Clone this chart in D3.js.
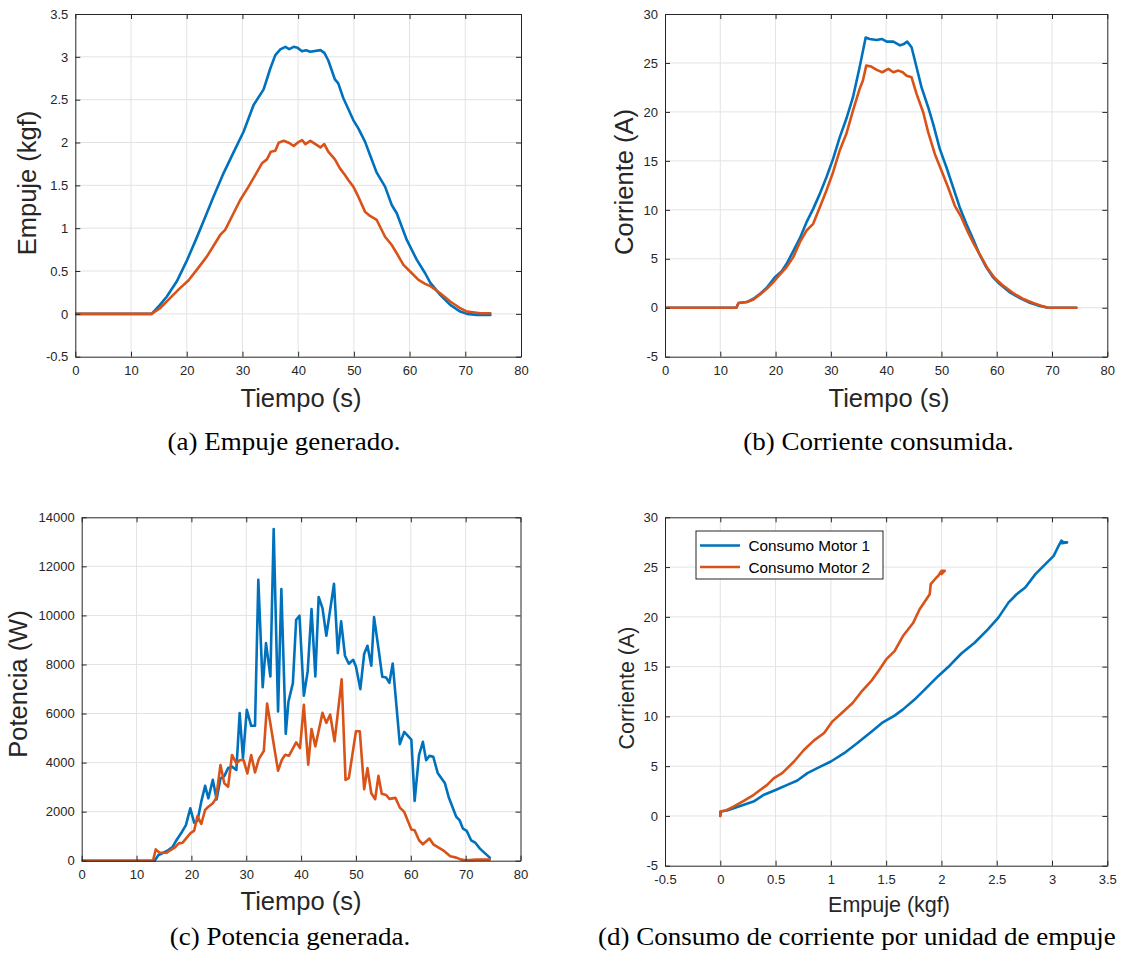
<!DOCTYPE html>
<html>
<head>
<meta charset="utf-8">
<script src="https://d3js.org/d3.v7.min.js"></script>
<style>
  html, body { margin: 0; padding: 0; background: #ffffff; }
  svg { display: block; }
  text { font-family: "Liberation Sans", Arial, Helvetica, sans-serif; fill: #262626; }
  .cap { font-family: "Liberation Serif", "Times New Roman", serif; fill: #000; }
</style>
</head>
<body>
<svg id="fig" width="1126" height="959"></svg>
<script>
// ---------------- DATA ----------------
// (a) Empuje generado (kgf) vs Tiempo (s)
const empujeT1 = [0, 13.7, 15.2, 16.4, 18.2, 20.0, 21.8, 23.6, 24.8, 26.6, 28.4, 30.2, 32.0, 33.8, 35.0, 35.9, 36.8, 37.7, 38.4, 39.2, 39.9, 40.7, 41.4, 42.2, 44.0, 44.7, 45.4, 46.6, 47.2, 48.1, 49.9, 50.8, 52.0, 52.9, 54.1, 55.6, 56.8, 57.7, 59.5, 61.3, 62.8, 63.7, 65.5, 67.3, 69.1, 70.3, 72.1, 74.5];
const empujeM1 = [0, 0, 0.105, 0.20, 0.377, 0.618, 0.89, 1.174, 1.368, 1.64, 1.885, 2.126, 2.437, 2.62, 2.864, 3.02, 3.086, 3.117, 3.09, 3.117, 3.105, 3.066, 3.078, 3.059, 3.078, 3.047, 2.96, 2.736, 2.69, 2.52, 2.262, 2.165, 2.01, 1.854, 1.648, 1.485, 1.271, 1.174, 0.863, 0.63, 0.474, 0.365, 0.222, 0.105, 0.027, 0, -0.012, -0.012];
const empujeT2 = [0, 13.7, 15.2, 17.0, 18.8, 20.3, 21.8, 23.6, 25.1, 26.0, 26.9, 28.4, 29.6, 31.1, 32.3, 33.5, 34.4, 35.1, 35.9, 36.5, 37.4, 38.3, 39.2, 39.9, 40.7, 41.3, 42.2, 43.1, 44.0, 44.7, 45.4, 46.6, 47.5, 48.4, 49.0, 49.9, 50.8, 52.0, 52.9, 54.1, 55.6, 56.8, 57.7, 58.9, 60.1, 61.6, 62.8, 63.7, 65.5, 67.3, 69.1, 70.3, 72.7, 74.5];
const empujeM2 = [0, 0, 0.066, 0.183, 0.30, 0.389, 0.513, 0.668, 0.824, 0.921, 0.98, 1.174, 1.329, 1.485, 1.62, 1.757, 1.803, 1.893, 1.904, 1.998, 2.02, 1.998, 1.959, 1.998, 2.029, 1.982, 2.02, 1.982, 1.943, 1.982, 1.893, 1.803, 1.698, 1.62, 1.562, 1.485, 1.368, 1.193, 1.143, 1.096, 0.90, 0.804, 0.707, 0.571, 0.494, 0.396, 0.35, 0.326, 0.241, 0.144, 0.066, 0.027, 0.008, 0.008];

// (b) Corriente consumida (A) vs Tiempo (s)
const corrT1 = [0, 12.9, 13.3, 14.8, 16.0, 17.2, 18.4, 19.9, 21.1, 22.0, 23.2, 24.4, 25.6, 26.8, 28.0, 29.2, 30.4, 31.6, 32.8, 34.0, 35.2, 36.3, 37.0, 38.3, 39.2, 40.1, 41.3, 42.5, 43.1, 43.8, 44.6, 45.5, 46.4, 47.6, 48.5, 49.7, 50.9, 52.1, 53.3, 54.5, 55.7, 56.9, 58.1, 59.3, 60.5, 62.3, 64.2, 66.0, 67.8, 69.3, 74.4];
const corrM1 = [0, 0, 0.48, 0.58, 0.92, 1.43, 2.04, 3.13, 3.74, 4.49, 5.78, 7.11, 8.74, 10.1, 11.63, 13.33, 15.2, 17.4, 19.3, 21.5, 24.56, 27.6, 27.45, 27.35, 27.45, 27.18, 27.18, 26.8, 26.9, 27.18, 26.6, 24.56, 22.5, 20.48, 18.78, 16.22, 14.35, 12.31, 10.27, 8.57, 7.04, 5.44, 4.15, 3.13, 2.45, 1.6, 0.99, 0.51, 0.17, 0, 0];
const corrT2 = [0, 12.9, 13.3, 14.8, 16.0, 17.2, 18.4, 19.6, 20.8, 22.0, 23.2, 24.4, 25.6, 26.8, 28.0, 29.2, 30.4, 31.6, 32.8, 34.0, 35.2, 35.8, 36.4, 37.3, 38.3, 39.3, 40.4, 41.3, 42.2, 43.0, 43.7, 44.6, 45.5, 46.7, 47.6, 48.8, 50.0, 51.2, 52.4, 53.6, 54.8, 56.0, 57.2, 58.4, 59.6, 61.1, 62.9, 64.7, 66.6, 68.4, 69.3, 74.4];
const corrM2 = [0, 0, 0.48, 0.58, 0.85, 1.36, 1.94, 2.62, 3.4, 4.15, 5.17, 6.7, 7.89, 8.57, 10.27, 11.97, 13.84, 16.05, 17.76, 20.14, 22.35, 23.2, 24.73, 24.63, 24.29, 24.05, 24.39, 24.05, 24.22, 24.05, 23.7, 23.54, 21.84, 19.97, 17.93, 15.71, 14.01, 12.31, 10.44, 9.25, 7.72, 6.36, 5.17, 3.98, 3.06, 2.28, 1.53, 0.92, 0.48, 0.14, 0, 0];

// (c) Potencia generada (W) vs Tiempo (s)
const potT1 = [0, 13.3, 14.0, 14.9, 15.8, 16.6, 17.3, 18.3, 19.0, 19.8, 20.5, 21.1, 21.8, 22.5, 23.1, 23.9, 24.6, 25.3, 26.0, 26.7, 27.4, 28.2, 28.8, 29.4, 30.1, 30.9, 31.6, 32.2, 33.0, 33.6, 34.4, 35.0, 35.8, 36.4, 37.2, 37.7, 38.5, 39.1, 39.7, 40.5, 41.2, 41.9, 42.6, 43.2, 43.9, 44.6, 46.0, 46.7, 47.3, 48.0, 48.7, 49.5, 50.0, 50.8, 51.5, 52.1, 52.8, 53.3, 54.1, 54.8, 55.5, 56.1, 56.7, 58.0, 58.8, 60.1, 60.7, 61.5, 62.2, 62.8, 63.4, 64.1, 64.9, 66.2, 66.9, 68.3, 68.9, 69.5, 70.2, 71.0, 71.8, 72.6, 74.4];
const potM1 = [0, 0, 231, 326, 435, 571, 843, 1183, 1450, 2135, 1550, 1620, 2407, 3050, 2543, 3300, 2500, 3350, 3450, 3780, 3835, 3700, 6016, 4180, 6150, 5500, 5500, 11456, 7077, 8870, 7510, 13523, 6084, 11075, 5173, 6490, 7240, 9824, 9987, 6723, 7716, 10259, 7512, 10749, 10300, 9171, 11293, 8464, 9756, 8355, 8029, 8192, 7920, 6995, 8437, 8763, 7947, 9933, 8668, 7500, 7470, 7252, 8041, 4750, 5253, 4940, 2438, 4300, 4845, 4097, 4274, 4233, 3580, 3172, 2600, 1785, 1649, 1309, 1213, 833, 724, 493, 126];
const potT2 = [0, 13.0, 13.5, 14.2, 15.5, 16.2, 17.0, 17.7, 18.4, 19.2, 19.8, 20.5, 21.1, 21.8, 22.5, 23.1, 23.9, 24.5, 25.3, 26.0, 26.7, 27.4, 28.2, 28.9, 29.5, 30.2, 30.9, 31.6, 32.3, 33.2, 33.8, 35.8, 36.5, 37.1, 37.8, 39.1, 39.8, 40.5, 41.3, 41.9, 42.6, 43.9, 44.6, 45.3, 46.1, 47.4, 48.1, 48.7, 50.0, 50.7, 51.5, 52.1, 52.8, 53.5, 54.1, 54.7, 55.5, 56.1, 57.2, 58.0, 58.8, 60.1, 60.7, 61.5, 62.2, 63.4, 64.1, 65.9, 67.2, 68.3, 69.2, 70.1, 71.9, 74.4];
const potM2 = [0, 0, 462, 326, 326, 435, 544, 707, 734, 952, 1115, 1224, 1822, 1496, 2067, 2203, 2339, 2543, 3903, 3155, 3019, 4311, 3971, 4107, 4107, 3560, 4311, 3600, 4150, 4470, 6409, 3666, 4117, 4320, 4280, 4826, 4594, 6355, 3912, 5372, 4662, 6027, 5618, 5959, 4867, 7400, 3297, 3366, 5277, 5277, 2915, 3775, 2751, 2506, 3461, 2730, 2680, 2520, 2560, 2166, 1989, 1268, 1241, 833, 670, 901, 670, 425, 180, 126, 44, 17, 44, 44];

// (d) Corriente (A) vs Empuje (kgf)
const consE1 = [0, 0.006, 0.06, 0.18, 0.30, 0.39, 0.5, 0.606, 0.697, 0.788, 0.909, 1.0, 1.12, 1.24, 1.364, 1.47, 1.576, 1.65, 1.757, 1.864, 1.97, 2.076, 2.18, 2.30, 2.42, 2.515, 2.606, 2.68, 2.758, 2.85, 2.94, 3.015, 3.06, 3.085, 3.106, 3.136, 3.09];
const consC1 = [0, 0.44, 0.54, 1.0, 1.44, 2.1, 2.6, 3.12, 3.56, 4.3, 4.97, 5.47, 6.3, 7.32, 8.43, 9.4, 10.08, 10.68, 11.69, 12.86, 14.04, 15.12, 16.32, 17.4, 18.74, 19.92, 21.43, 22.27, 22.94, 24.29, 25.3, 26.13, 27.14, 27.65, 27.48, 27.48, 27.4];
const consE2 = [0, 0, 0.045, 0.12, 0.212, 0.303, 0.424, 0.485, 0.56, 0.667, 0.758, 0.848, 0.939, 1.015, 1.106, 1.197, 1.273, 1.364, 1.44, 1.5, 1.576, 1.652, 1.742, 1.803, 1.894, 1.903, 1.955, 1.97, 2.0, 2.03, 2.0];
const consC2 = [0, 0.44, 0.54, 0.94, 1.51, 2.12, 3.12, 3.8, 4.3, 5.47, 6.65, 7.59, 8.33, 9.5, 10.41, 11.35, 12.43, 13.54, 14.71, 15.72, 16.56, 18.07, 19.35, 20.76, 22.27, 23.28, 23.95, 24.1, 24.62, 24.62, 24.29];

// ticks
const tiempoTicks = [0, 10, 20, 30, 40, 50, 60, 70, 80];
const empujeTicks = [-0.5, 0, 0.5, 1, 1.5, 2, 2.5, 3, 3.5];
const corrTicks = [-5, 0, 5, 10, 15, 20, 25, 30];
const potTicks = [0, 2000, 4000, 6000, 8000, 10000, 12000, 14000];

const legendNames = ["Consumo Motor 1", "Consumo Motor 2"];
const captions = ["(a) Empuje generado.", "(b) Corriente consumida.", "(c) Potencia generada.", "(d) Consumo de corriente por unidad de empuje"];

// ---------------- DRAW ----------------
const C1 = "#0072BD", C2 = "#D95319";
const svg = d3.select("#fig");

function panel(opt) {
  const {L, R, T, B, xDom, yDom, xTicks, yTicks, series} = opt;
  const x = d3.scaleLinear().domain(xDom).range([L, R]);
  const y = d3.scaleLinear().domain(yDom).range([B, T]);
  const g = svg.append("g");
  g.append("rect").attr("x", L).attr("y", T).attr("width", R - L).attr("height", B - T).attr("fill", "#fff");
  g.append("g").selectAll("line").data(xTicks.filter(v => v > xDom[0] && v < xDom[1])).join("line")
    .attr("x1", d => x(d)).attr("x2", d => x(d)).attr("y1", T).attr("y2", B)
    .attr("stroke", "#e3e3e3").attr("stroke-width", 1);
  g.append("g").selectAll("line").data(yTicks.filter(v => v > yDom[0] && v < yDom[1])).join("line")
    .attr("y1", d => y(d)).attr("y2", d => y(d)).attr("x1", L).attr("x2", R)
    .attr("stroke", "#e3e3e3").attr("stroke-width", 1);
  const clipId = "clip" + Math.round(L) + "_" + Math.round(T);
  svg.append("clipPath").attr("id", clipId).append("rect")
    .attr("x", L).attr("y", T - 3).attr("width", R - L + 3).attr("height", B - T + 6);
  series.forEach(s => {
    const pts = s.xs.map((v, i) => [v, s.ys[i]]);
    g.append("path").datum(pts)
      .attr("d", d3.line().x(d => x(d[0])).y(d => y(d[1])))
      .attr("fill", "none").attr("stroke", s.color).attr("stroke-width", 2.6)
      .attr("stroke-linejoin", "round").attr("stroke-linecap", "round")
      .attr("clip-path", "url(#" + clipId + ")");
  });
  const axB = d3.axisBottom(x).tickValues(xTicks).tickSizeInner(-5).tickSizeOuter(0).tickPadding(9.5).tickFormat(d => String(d));
  const axT = d3.axisTop(x).tickValues(xTicks).tickSizeInner(-5).tickSizeOuter(0).tickFormat("");
  const axL = d3.axisLeft(y).tickValues(yTicks).tickSizeInner(-5).tickSizeOuter(0).tickPadding(7).tickFormat(d => String(d));
  const axR = d3.axisRight(y).tickValues(yTicks).tickSizeInner(-5).tickSizeOuter(0).tickFormat("");
  const style = sel => {
    sel.selectAll("path.domain").attr("stroke", "#262626").attr("stroke-width", 1);
    sel.selectAll(".tick line").attr("stroke", "#262626").attr("stroke-width", 1);
    sel.selectAll(".tick text").attr("fill", "#262626").style("font-size", "13px")
      .style("font-family", '"Liberation Sans", Arial, sans-serif');
  };
  g.append("g").attr("transform", `translate(0,${B})`).call(axB).call(style);
  g.append("g").attr("transform", `translate(0,${T})`).call(axT).call(style);
  g.append("g").attr("transform", `translate(${L},0)`).call(axL).call(style);
  g.append("g").attr("transform", `translate(${R},0)`).call(axR).call(style);
  return {x, y, g};
}

function xlabel(text, cx, by, size) {
  svg.append("text").attr("x", cx).attr("y", by).attr("text-anchor", "middle")
    .style("font-size", size + "px").text(text);
}
function ylabel(text, bx, cy, size) {
  svg.append("text").attr("transform", `translate(${bx},${cy}) rotate(-90)`).attr("text-anchor", "middle")
    .style("font-size", size + "px").text(text);
}
function caption(text, x0, by, anchor) {
  svg.append("text").attr("class", "cap")
    .attr("transform", `translate(${x0},${by}) scale(1.08,1)`)
    .attr("text-anchor", anchor).style("font-size", "25px").text(text);
}

// (a)
panel({L: 75.3, R: 521, T: 14, B: 356.7, xDom: [0, 80], yDom: [-0.5, 3.5], xTicks: tiempoTicks, yTicks: empujeTicks,
  series: [{xs: empujeT1, ys: empujeM1, color: C1}, {xs: empujeT2, ys: empujeM2, color: C2}]});
xlabel("Tiempo (s)", 301, 406.5, 25.5);
ylabel("Empuje (kgf)", 36, 183, 25.5);

// (b)
panel({L: 665, R: 1107.3, T: 14, B: 356.7, xDom: [0, 80], yDom: [-5, 30], xTicks: tiempoTicks, yTicks: corrTicks,
  series: [{xs: corrT1, ys: corrM1, color: C1}, {xs: corrT2, ys: corrM2, color: C2}]});
xlabel("Tiempo (s)", 889, 406.5, 25.5);
ylabel("Corriente (A)", 633, 182, 25.5);

// (c)
panel({L: 81.7, R: 520.5, T: 517.3, B: 860.7, xDom: [0, 80], yDom: [0, 14000], xTicks: tiempoTicks, yTicks: potTicks,
  series: [{xs: potT1, ys: potM1, color: C1}, {xs: potT2, ys: potM2, color: C2}]});
xlabel("Tiempo (s)", 301, 910, 25.5);
ylabel("Potencia (W)", 27, 684, 25.5);

// (d)
panel({L: 665, R: 1107.3, T: 517.3, B: 865.7, xDom: [-0.5, 3.5], yDom: [-5, 30], xTicks: empujeTicks, yTicks: corrTicks,
  series: [{xs: consE1, ys: consC1, color: C1}, {xs: consE2, ys: consC2, color: C2}]});
xlabel("Empuje (kgf)", 889, 912, 21.5);
ylabel("Corriente (A)", 633.5, 688, 21.5);

// legend (d)
const lg = svg.append("g");
lg.append("rect").attr("x", 696).attr("y", 531).attr("width", 187).attr("height", 48)
  .attr("fill", "#fff").attr("stroke", "#262626").attr("stroke-width", 1);
[C1, C2].forEach((c, i) => {
  const yy = 545.5 + i * 21.5;
  lg.append("line").attr("x1", 700).attr("x2", 740).attr("y1", yy).attr("y2", yy)
    .attr("stroke", c).attr("stroke-width", 2.6);
  lg.append("text").attr("x", 748.5).attr("y", yy).attr("dy", "0.36em")
    .style("font-size", "15.3px").style("fill", "#000").text(legendNames[i]);
});

// captions
caption(captions[0], 284, 450, "middle");
caption(captions[1], 878.5, 450, "middle");
caption(captions[2], 290, 945, "middle");
caption(captions[3], 598, 945, "start");
</script>
</body>
</html>
